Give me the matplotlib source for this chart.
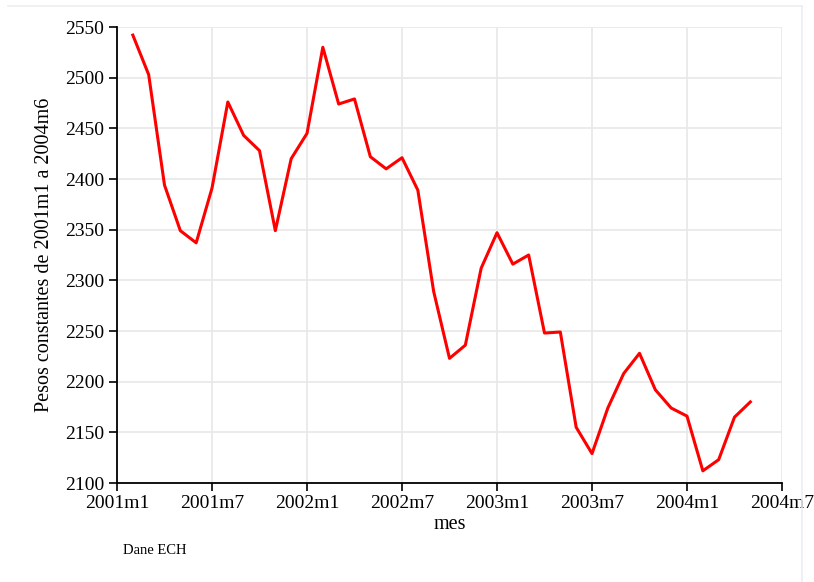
import matplotlib
matplotlib.use('Agg')
import matplotlib.pyplot as plt
from matplotlib.lines import Line2D

# meses desde 2001m1 (0 = 2001m1)
meses = list(range(1, 41))
pesos = [2542, 2503, 2394, 2349, 2337, 2391, 2476, 2443, 2428, 2349,
         2420, 2445, 2530, 2474, 2479, 2422, 2410, 2421, 2389, 2289,
         2223, 2236, 2312, 2347, 2316, 2325, 2248, 2249, 2155, 2129,
         2174, 2208, 2228, 2192, 2174, 2166, 2112, 2123, 2165, 2180]

xticks = [0, 6, 12, 18, 24, 30, 36, 42]
xlabels = ['2001m1', '2001m7', '2002m1', '2002m7', '2003m1', '2003m7', '2004m1', '2004m7']
yticks = [2100, 2150, 2200, 2250, 2300, 2350, 2400, 2450, 2500, 2550]

plt.rcParams['font.family'] = ['Liberation Serif', 'DejaVu Serif']

fig = plt.figure(figsize=(8.14, 5.82), dpi=100)
ax = fig.add_axes([117 / 814, 1 - 483 / 582, 665 / 814, 456 / 582])

ax.plot(meses, pesos, color='#ff0000', lw=2.2, zorder=3)

ax.set_xlim(0, 42)
ax.set_ylim(2100, 2550)
ax.set_xticks(xticks)
ax.set_xticklabels(xlabels)
ax.set_yticks(yticks)
ax.tick_params(axis='both', labelsize=14, length=6, width=1.2, color='black', direction='out')
ax.tick_params(axis='y', pad=3)
ax.tick_params(axis='x', pad=3)

ax.grid(True, color='#e8e8e8', lw=1.2, zorder=0)
ax.set_axisbelow(True)
for s in ['top', 'right']:
    ax.spines[s].set_visible(False)
for s in ['left', 'bottom']:
    ax.spines[s].set_linewidth(1.3)

ax.set_xlabel('mes', fontsize=14.5, labelpad=2)
ax.set_ylabel('Pesos constantes de 2001m1 a 2004m6', fontsize=14.5, labelpad=8)

fig.text(123 / 814, 1 - 551 / 582, 'Dane ECH', fontsize=10.5, va='center', ha='left')

# marco exterior
fig.add_artist(Line2D([8 / 814, 802 / 814], [1 - 6 / 582, 1 - 6 / 582],
                      transform=fig.transFigure, color='#eeeeee', lw=1.2))
fig.add_artist(Line2D([802 / 814, 802 / 814], [1 - 6 / 582, 0],
                      transform=fig.transFigure, color='#eeeeee', lw=1.2))

fig.savefig('out.png', dpi=100)
